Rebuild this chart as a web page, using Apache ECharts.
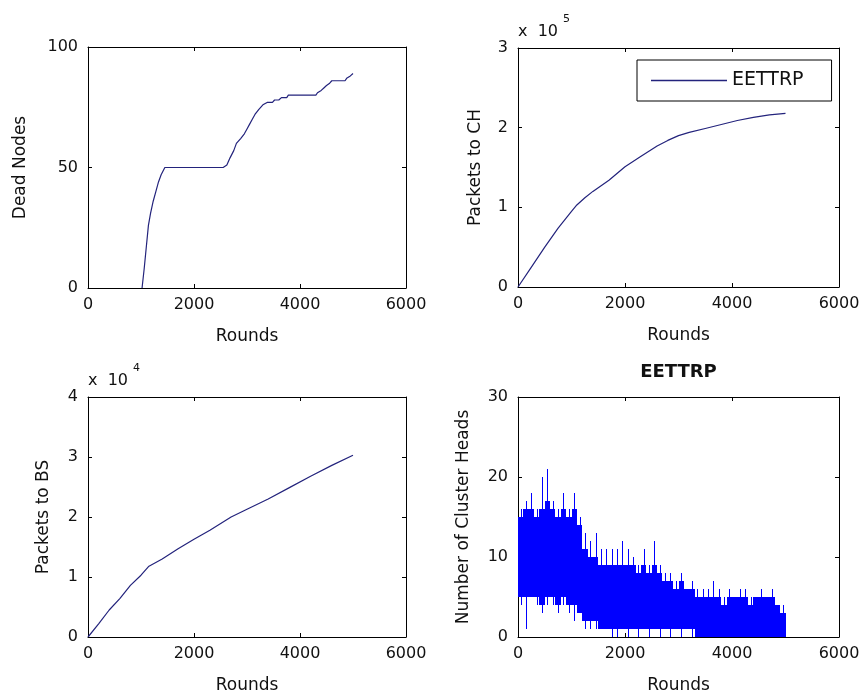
<!DOCTYPE html>
<html><head><meta charset="utf-8">
<script src="https://cdn.jsdelivr.net/npm/echarts@6/dist/echarts.min.js"></script>
<style>html,body{margin:0;padding:0;background:#fff}#c{width:865px;height:700px}</style>
</head><body><div id="c"></div>
<script>
// ---- data ----
var seriesName = 'EETTRP';
var xTicks = [0, 2000, 4000, 6000];

// Panel 1: dead nodes vs rounds
var deadNodes = [[1020,0],[1060,8],[1100,17],[1140,26],[1180,31],[1230,36],[1280,40],[1330,44],[1380,47],[1450,50],
  [2550,50],[2620,51],[2680,54],[2750,57],[2800,60],[2880,62],[2950,64],[3000,66],[3050,68],[3100,70],[3150,72],
  [3220,74],[3300,76],[3380,77],[3480,77],[3520,78],[3600,78],[3650,79],[3750,79],[3780,80],[4300,80],[4330,81],
  [4400,82],[4450,83],[4500,84],[4560,85],[4600,86],[4850,86],[4880,87],[4950,88],[5000,89]];

// Panel 2: packets to CH vs rounds
var packetsCH = [[0,0],[250,25000],[500,50000],[750,74000],[1000,95000],[1100,103000],[1250,112000],[1400,120000],
  [1700,134000],[2000,151000],[2300,164000],[2600,177000],[2800,184000],[3000,190000],[3200,194000],[3500,199000],
  [3800,204000],[4100,209000],[4400,213000],[4700,216000],[5000,218000]];

// Panel 3: packets to BS vs rounds
var packetsBS = [[0,0],[200,2200],[400,4500],[600,6400],[800,8600],[1000,10300],[1150,11800],[1400,13000],
  [1700,14700],[2000,16300],[2300,17800],[2700,20000],[3000,21300],[3400,23000],[3800,24900],[4200,26800],
  [4600,28600],[5000,30300]];

// Panel 4: number of cluster heads, per 100-round bin
// bin edges; solid (typical) range in each bin; extreme spikes in each bin
var chRounds = [0,100,200,300,400,500,600,700,800,900,1000,1100,1200,1300,1400,1500,1600,1700,1800,1900,
  2000,2100,2200,2300,2400,2500,2600,2700,2800,2900,3000,3100,3200,3300,3400,3500,3600,3700,3800,3900,
  4000,4100,4200,4300,4400,4500,4600,4700,4800,4900,5000];
var chCoreUpper = [15,16,16,15,16,17,16,15,16,15,16,14,11,10,10,9,9,9,9,9,
  9,9,8,9,8,9,8,7,7,6,7,6,6,5,5,5,5,5,4,5,
  5,5,5,4,5,5,5,5,4,3];
var chCoreLower = [5,5,5,5,4,5,5,4,5,4,4,3,2,2,2,1,1,1,1,1,
  1,1,1,1,1,1,1,1,1,1,1,1,1,0,0,0,0,0,0,0,
  0,0,0,0,0,0,0,0,0,0];
var chUpper = [16,17,18,16,20,21,17,16,18,16,18,15,13,12,13,11,11,11,11,12,
  11,10,9,11,9,12,9,8,8,7,8,6,7,6,6,6,7,6,5,6,
  5,6,6,5,5,6,5,6,4,4];
var chLower = [4,1,5,4,3,4,4,3,4,3,2,3,1,1,1,1,1,0,0,1,
  0,1,0,1,0,1,0,1,0,1,0,1,0,0,0,0,0,0,0,0,
  0,0,0,0,0,0,0,0,0,2];

// ---- chart ----
var FONT = 'DejaVu Sans';
var LINE = '#23237c';
var BLUE = '#0000ff';
var grids = [
  {left: 88, top: 47, width: 318, height: 241},
  {left: 518, top: 48, width: 321, height: 239},
  {left: 88, top: 397, width: 318, height: 240},
  {left: 518, top: 397, width: 321, height: 240}
];
var yCfg = [
  {min: 0, max: 100, interval: 50, name: 'Dead Nodes', gap: 58, fmt: function (v) { return String(v); }},
  {min: 0, max: 300000, interval: 100000, name: 'Packets to CH', gap: 33, fmt: function (v) { return String(v / 100000); }, exp: '5'},
  {min: 0, max: 40000, interval: 10000, name: 'Packets to BS', gap: 35, fmt: function (v) { return String(v / 10000); }, exp: '4'},
  {min: 0, max: 30, interval: 10, name: 'Number of Cluster Heads', gap: 45, fmt: function (v) { return String(v); }}
];
var tickStyle = {show: true, inside: true, length: 4, lineStyle: {color: '#000', width: 1}};
var axisLine = {show: true, onZero: false, lineStyle: {color: '#000', width: 1}};
var lbl = {color: '#111', fontFamily: FONT, fontSize: 16};

var xAxes = [], yAxes = [];
grids.forEach(function (g, i) {
  xAxes.push({type: 'value', gridIndex: i, min: xTicks[0], max: xTicks[xTicks.length - 1], interval: 2000,
    position: 'bottom', axisLine: axisLine, axisTick: tickStyle, splitLine: {show: false},
    axisLabel: Object.assign({margin: 9, formatter: function (v) { return String(v); }}, lbl),
    name: 'Rounds', nameLocation: 'middle', nameGap: 40,
    nameTextStyle: {color: '#111', fontFamily: FONT, fontSize: 17}});
  xAxes.push({type: 'value', gridIndex: i, min: xTicks[0], max: xTicks[xTicks.length - 1], interval: 2000, position: 'top',
    axisLine: axisLine, axisTick: tickStyle, axisLabel: {show: false}, splitLine: {show: false}});
  var c = yCfg[i];
  yAxes.push({type: 'value', gridIndex: i, min: c.min, max: c.max, interval: c.interval, position: 'left',
    axisLine: axisLine, axisTick: tickStyle, splitLine: {show: false},
    axisLabel: Object.assign({margin: 10, formatter: c.fmt}, lbl)});
  yAxes.push({type: 'value', gridIndex: i, min: c.min, max: c.max, interval: c.interval, position: 'right',
    axisLine: axisLine, axisTick: tickStyle, axisLabel: {show: false}, splitLine: {show: false}});
});

var graphics = [];
grids.forEach(function (g, i) {
  var c = yCfg[i];
  graphics.push({type: 'text', rotation: Math.PI / 2,
    x: g.left - c.gap - 9, y: g.top + g.height / 2,
    style: {text: c.name, fill: '#111', font: '17px "' + FONT + '"', align: 'center', verticalAlign: 'middle'}});
  if (c.exp) {
    graphics.push({type: 'text', x: g.left, y: g.top - 16,
      style: {text: 'x  10', fill: '#111', font: '16px "' + FONT + '"', align: 'left', verticalAlign: 'middle'}});
    graphics.push({type: 'text', x: g.left + 45, y: g.top - 29,
      style: {text: c.exp, fill: '#111', font: '11px "' + FONT + '"', align: 'left', verticalAlign: 'middle'}});
  }
});
graphics.push({type: 'text', x: grids[3].left + grids[3].width / 2, y: grids[3].top - 25,
  style: {text: seriesName, fill: '#111', font: 'bold 18px "' + FONT + '"', align: 'center', verticalAlign: 'middle'}});

var chBins = chCoreUpper.map(function (u, k) {
  return [chRounds[k], chRounds[k + 1], chCoreLower[k], u, chLower[k], chUpper[k]];
});

var option = {
  animation: false,
  backgroundColor: '#fff',
  grid: grids,
  xAxis: xAxes,
  yAxis: yAxes,
  graphic: graphics,
  legend: {
    data: [{name: seriesName, icon: 'rect'}], left: 637, top: 60, padding: [11, 28, 11, 14],
    borderColor: '#000', borderWidth: 1, backgroundColor: '#fff',
    itemWidth: 76, itemHeight: 1.3,
    textStyle: {color: '#111', fontFamily: FONT, fontSize: 19}
  },
  series: [
    {type: 'line', xAxisIndex: 0, yAxisIndex: 0, data: deadNodes, symbol: 'none',
      lineStyle: {color: LINE, width: 1.2}, itemStyle: {color: LINE}},
    {type: 'line', name: seriesName, xAxisIndex: 2, yAxisIndex: 2, data: packetsCH, symbol: 'none',
      lineStyle: {color: LINE, width: 1.2}, itemStyle: {color: LINE}},
    {type: 'line', xAxisIndex: 4, yAxisIndex: 4, data: packetsBS, symbol: 'none',
      lineStyle: {color: LINE, width: 1.2}, itemStyle: {color: LINE}},
    {type: 'custom', xAxisIndex: 6, yAxisIndex: 6, data: chBins, clip: true,
      encode: {x: [0, 1], y: [2, 3, 4, 5]},
      renderItem: function (params, api) {
        var x0 = api.value(0), x1 = api.value(1);
        var cLo = api.value(2), cHi = api.value(3), eLo = api.value(4), eHi = api.value(5);
        var p1 = api.coord([x0, cHi]);
        var p2 = api.coord([x1, cLo]);
        var L = Math.round(p1[0]), R = Math.round(p2[0]);
        var T = Math.round(p1[1]), B = Math.round(p2[1]);
        var xm = Math.round(api.coord([(x0 + x1) / 2, 0])[0]) + 0.5;
        var children = [
          {type: 'rect', shape: {x: L, y: T, width: R - L, height: B - T}, style: {fill: BLUE}}
        ];
        if (eHi > cHi) {
          var a = api.coord([x0, eHi]);
          children.push({type: 'line', shape: {x1: xm, y1: Math.round(a[1]), x2: xm, y2: T},
            style: {stroke: BLUE, lineWidth: 1}});
        }
        if (eLo < cLo) {
          var d = api.coord([x0, eLo]);
          children.push({type: 'line', shape: {x1: xm, y1: B, x2: xm, y2: Math.round(d[1])},
            style: {stroke: BLUE, lineWidth: 1}});
        }
        return {type: 'group', children: children};
      }}
  ]
};
var chart = echarts.init(document.getElementById('c'), null, {renderer: 'canvas'});
chart.setOption(option);
</script></body></html>
